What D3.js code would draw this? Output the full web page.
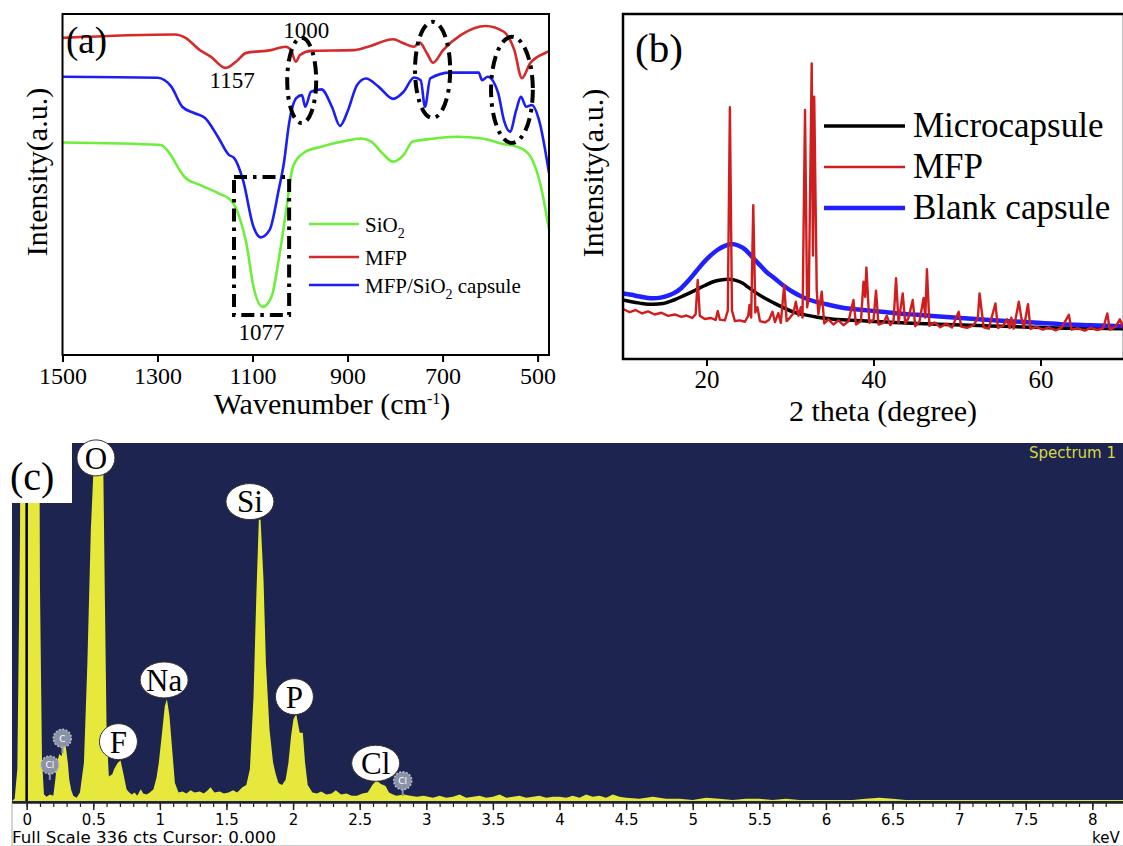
<!DOCTYPE html>
<html><head><meta charset="utf-8">
<script src="https://cdn.jsdelivr.net/npm/d3@7"></script>
<style>body{margin:0;background:#fff;} svg{display:block;}</style>
</head><body><svg id="fig" width="1123" height="846"></svg>
<script>
// ---------- Panel (a): FTIR ----------
const ftirTicks = [1500, 1300, 1100, 900, 700, 500];
const ftirSeriesNames = ["SiO2", "MFP", "MFP/SiO2 capsule"];
const ftirMFP = [[1500,93.0],[1263,94.0],[1241,93.0],[1211,89.4],[1188,87.5],[1157,84.2],[1135,86.0],[1113,88.6],[1061,89.4],[1030,90.4],[1019,89.4],[1009,86.0],[1000,88.0],[977,89.2],[887,89.4],[857,90.4],[804,92.6],[782,91.4],[760,90.4],[748,91.6],[733,88.5],[720,85.7],[699,89.4],[662,93.8],[609,96.5],[571,94.8],[549,89.4],[533,81.2],[516,85.5],[482,88.7],[476,89.1]];
const ftirCapsule = [[1500,81.6],[1300,81.3],[1271,78.7],[1248,72.8],[1222,70.9],[1200,69.5],[1173,64.0],[1150,58.7],[1139,57.8],[1120,51.3],[1098,37.6],[1083,34.5],[1064,36.7],[1045,48.4],[1034,56.3],[1023,68.0],[1008,75.3],[996,76.2],[989,72.8],[977,77.2],[955,77.9],[933,72.8],[916,67.2],[899,71.8],[880,79.2],[861,81.1],[835,78.7],[804,75.1],[782,77.2],[760,81.4],[746,80.6],[737,72.8],[726,81.1],[684,82.8],[624,82.8],[617,80.6],[605,81.6],[583,76.8],[571,68.9],[558,65.5],[545,71.8],[535,75.7],[524,72.8],[512,73.3],[497,68.9],[476,53.4]];
const ftirSiO2 = [[1500,62.3],[1293,61.6],[1275,59.2],[1256,54.8],[1241,51.9],[1211,49.9],[1173,47.5],[1143,45.0],[1128,40.6],[1113,32.8],[1098,20.0],[1079,14.1],[1060,17.1],[1045,27.9],[1030,41.6],[1015,55.2],[992,59.3],[955,61.1],[910,62.6],[872,63.5],[850,62.6],[827,59.2],[804,56.7],[782,58.7],[763,62.6],[729,63.3],[670,64.0],[617,63.5],[579,62.1],[534,60.6],[511,57.2],[493,49.4],[476,36.7]];
const ftirPeakLabels = [["1157",1143,78.3],["1000",987,93],["1077",1081,4.4]];
const ftirEllipses = [[1027,966,93,68],[758,684,97.7,69.5],[598,510,93.3,62.2]];
const ftirRect = [1139,1023,52.2,11.7];

// ---------- Panel (b): XRD ----------
const xrdTicks = [20, 40, 60];
const xrdNames = ["Microcapsule", "MFP", "Blank capsule"];
const xrdMicro = [[10,17.1],[11,16.6],[12,16.2],[13,15.9],[13.6,15.9],[14.8,16.1],[16.1,17.1],[17.4,18.5],[18.7,20],[19.8,21.3],[20.8,22.4],[21.7,22.9],[22.6,23.1],[23.5,22.8],[24.3,22],[25.1,20.6],[26,19.1],[27,17.6],[28.1,16.2],[29.2,14.9],[30.3,13.7],[31.8,12.8],[33.3,12.1],[35,11.6],[36.7,11.3],[41,10.8],[45.3,10.3],[49.6,9.9],[53.9,9.6],[58,9.3],[62,9.0],[66,8.9],[70,8.8]];
const xrdBlank = [[10,19],[11,18.6],[12,18.1],[13,17.7],[13.6,17.6],[14.5,17.8],[15.3,18.3],[16.1,19.1],[17,20.6],[17.9,22.9],[18.7,25.2],[19.6,27.8],[20.4,29.8],[21.3,31.6],[22.2,32.8],[23,33.3],[23.8,32.9],[24.7,31.6],[25.5,29.5],[26.4,27.2],[27.2,25.2],[28.1,23.5],[29.2,21.3],[30.3,19.5],[31.3,18.2],[32.4,17.1],[34.5,15.8],[36.7,14.7],[38.8,14.2],[41,13.7],[43.1,13.2],[45.3,12.8],[49.6,12],[53.9,11.3],[58.2,10.7],[62.4,10.1],[66,9.8],[70,9.5]];
const xrdMFP = [[10,14.5],[10.8,13.6],[11.5,14.2],[12.3,13.2],[13,13.8],[13.8,12.9],[14.6,13.4],[15.4,12.5],[16.2,12.9],[17,12.2],[17.6,12.6],[18.3,11.9],[18.7,13],[18.95,22.9],[19.2,12.5],[19.8,11.6],[20.5,11.9],[21.1,11.3],[21.35,13.9],[21.6,11.4],[22.2,11.2],[22.55,14],[22.8,73],[23.05,14],[23.4,11],[24,11.2],[24.6,10.8],[25,12.5],[25.15,15.7],[25.35,12],[25.6,44.6],[25.85,13.5],[26.1,15],[26.4,11],[27,10.6],[27.5,11.4],[27.9,13.7],[28.2,10.7],[28.6,13.3],[28.9,10.5],[29.3,21.4],[29.6,11],[30,12],[30.4,13.2],[30.7,16.6],[31,12.5],[31.3,15],[31.5,12],[31.8,72.2],[32.05,15],[32.25,18],[32.6,85.7],[32.75,30],[32.9,76],[33.2,20],[33.4,13],[33.8,19.5],[34.1,10.3],[34.6,11.5],[35.2,10],[35.8,11.2],[36.4,9.8],[37,10.9],[37.6,17.1],[37.9,10],[38.5,11],[38.8,22.4],[39.0,18],[39.15,26.5],[39.5,10.5],[40,11.3],[40.3,19.8],[40.6,10],[41.2,10.5],[41.6,12.5],[42,9.8],[42.4,11],[42.7,23.4],[43,10.5],[43.5,19],[43.8,10.2],[44.2,12],[44.7,17.1],[45,9.5],[45.5,10.8],[46,17.7],[46.2,12],[46.4,26],[46.7,9.6],[47.3,10.6],[48,9.2],[48.7,10.2],[49.4,9.1],[50.2,13.7],[50.5,9.4],[51.2,9],[52,9.8],[52.5,12],[52.7,19],[52.9,15],[53.2,9.2],[53.8,8.8],[54.6,16.1],[54.9,9],[55.5,9.6],[56,11.5],[56.3,9],[56.5,12],[56.8,8.8],[57.4,16.6],[57.7,12],[58,9],[58.5,15.9],[58.8,8.7],[59.5,9.3],[60.3,8.5],[61,9.2],[61.8,8.3],[62.5,9],[63.4,12.8],[63.7,8.5],[64.5,8.9],[65.3,8.2],[66,9],[66.8,8.4],[67.5,8.9],[68,13.2],[68.3,8.5],[69,9.4],[69.5,11.5],[70,8.6]];

// ---------- Panel (c): EDS ----------
const edsMajorTicks = [0,0.5,1,1.5,2,2.5,3,3.5,4,4.5,5,5.5,6,6.5,7,7.5,8];
const edsSpectrum = [[-0.11,0],[-0.09,2],[-0.07,30],[-0.05,250],[-0.035,700],[0.085,700],[0.1,200],[0.115,40],[0.13,6],[0.15,4],[0.175,6],[0.2,5],[0.215,20],[0.228,36],[0.245,44],[0.262,42],[0.276,55],[0.295,50],[0.31,35],[0.32,20],[0.335,10],[0.35,5],[0.375,3],[0.40,8],[0.43,36],[0.456,130],[0.482,255],[0.50,306],[0.53,330],[0.56,330],[0.576,306],[0.587,192],[0.60,67],[0.617,23],[0.643,25],[0.657,30],[0.684,36],[0.705,38],[0.724,27],[0.75,11],[0.77,8],[0.79,6],[0.81,8],[0.83,5],[0.857,11],[0.875,7],[0.9,6],[0.925,8],[0.952,11],[0.975,22],[0.992,36],[1.019,67],[1.037,89],[1.053,95.5],[1.072,80],[1.09,52],[1.113,17],[1.14,8],[1.17,9],[1.2,7],[1.23,10],[1.26,8],[1.3,9],[1.33,7],[1.36,10],[1.38,13],[1.41,8],[1.45,9],[1.48,7],[1.515,8],[1.55,10],[1.58,8],[1.62,13],[1.649,15],[1.676,30],[1.703,98],[1.724,192],[1.743,264],[1.756,264],[1.778,208],[1.796,130],[1.823,67],[1.85,36],[1.87,25],[1.89,17],[1.917,15],[1.944,20],[1.965,36],[1.985,61],[2.003,77],[2.024,81.5],[2.05,64],[2.073,64],[2.09,36],[2.11,15],[2.145,8],[2.18,7],[2.21,9],[2.25,6],[2.29,7],[2.32,10],[2.36,6],[2.4,7],[2.44,5],[2.48,5],[2.52,7],[2.56,8],[2.6,16],[2.627,19],[2.66,16],[2.694,14],[2.72,8],[2.75,6],[2.775,5],[2.83,6],[2.88,5],[2.93,4],[2.98,5],[3.05,3],[3.1,5],[3.15,3],[3.2,4],[3.25,6],[3.3,3],[3.35,4],[3.4,5],[3.45,3],[3.5,4],[3.55,6],[3.6,3],[3.65,4],[3.7,5],[3.75,3],[3.8,4],[3.85,5],[3.9,3],[3.95,4],[4.0,4],[4.05,3],[4.1,5],[4.15,3],[4.2,6],[4.25,4],[4.3,5],[4.35,3],[4.4,6],[4.45,4],[4.5,3],[4.6,2],[4.7,4],[4.75,3],[4.8,2],[4.9,2],[5.0,1],[5.1,3],[5.2,2],[5.3,1],[5.4,2],[5.5,2],[5.6,1],[5.7,2],[5.8,1],[5.9,1],[6.0,1],[6.1,1],[6.2,1],[6.3,2],[6.4,3],[6.5,2],[6.6,1],[6.7,1],[6.8,1],[7.0,1],[7.2,1],[7.4,1],[7.6,1],[7.8,1],[8.0,1],[8.23,1]];
const edsLabels = [["O",0.52,322],["Si",1.676,281],["Na",1.032,113.6],["P",2.01,97.9],["F",0.689,55.7],["Cl",2.62,35.4]];
const edsBadges = [["C",0.268,58.8],["Cl",0.174,33.8],["Cl",2.823,19]];

// ================= drawing =================
const svg = d3.select("#fig");
const SERIF = "'Liberation Serif','Times New Roman',serif";
const SANS = "'DejaVu Sans',Verdana,sans-serif";
svg.append("rect").attr("width",1123).attr("height",846).attr("fill","#fff");

// ---- Panel (a)
{
  const L=62.5,R=549,T=14,B=355;
  const x = d3.scaleLinear().domain([1500,476]).range([L,R]);
  const y = d3.scaleLinear().domain([0,100]).range([B,T]);
  const g = svg.append("g");
  g.append("clipPath").attr("id","clipA").append("rect").attr("x",L).attr("y",T).attr("width",R-L).attr("height",B-T);
  const line = d3.line().x(d=>x(d[0])).y(d=>y(d[1])).curve(d3.curveMonotoneX);
  const cg = g.append("g").attr("clip-path","url(#clipA)");
  const series = [[ftirSiO2,"#6cef3a"],[ftirCapsule,"#1d1df5"],[ftirMFP,"#d42a2a"]];
  series.forEach(([d,c])=>cg.append("path").datum(d).attr("d",line).attr("fill","none").attr("stroke",c).attr("stroke-width",2.6));
  const dash = "13,6,3.5,6";
  ftirEllipses.forEach(e=>{
    const cx=(x(e[0])+x(e[1]))/2, cy=(y(e[2])+y(e[3]))/2;
    g.append("ellipse").attr("cx",cx).attr("cy",cy).attr("rx",Math.abs(x(e[1])-x(e[0]))/2).attr("ry",Math.abs(y(e[3])-y(e[2]))/2)
      .attr("fill","none").attr("stroke","#000").attr("stroke-width",4).attr("stroke-dasharray",dash);
  });
  g.append("rect").attr("x",x(ftirRect[0])).attr("y",y(ftirRect[2])).attr("width",x(ftirRect[1])-x(ftirRect[0])).attr("height",y(ftirRect[3])-y(ftirRect[2]))
    .attr("fill","none").attr("stroke","#000").attr("stroke-width",4).attr("stroke-dasharray",dash);
  ftirPeakLabels.forEach(p=>g.append("text").attr("x",x(p[1])).attr("y",y(p[2])).attr("text-anchor","middle")
    .attr("font-family",SERIF).attr("font-size",23).text(p[0]));
  g.append("rect").attr("x",L).attr("y",T).attr("width",R-L).attr("height",B-T).attr("fill","none").attr("stroke","#000").attr("stroke-width",2);
  const ax = g.append("g").attr("transform",`translate(0,${B})`)
    .call(d3.axisBottom(x).tickValues(ftirTicks).tickSize(7).tickPadding(5).tickFormat(d3.format("d")));
  ax.select(".domain").remove();
  ax.selectAll("line").attr("stroke-width",2);
  ax.selectAll("text").attr("font-family",SERIF).attr("font-size",24).attr("fill","#000");
  const t = g.append("text").attr("x",332).attr("y",414).attr("text-anchor","middle").attr("font-family",SERIF).attr("font-size",30);
  t.append("tspan").text("Wavenumber (cm");
  t.append("tspan").attr("dy",-10).attr("font-size",16).text("-1");
  t.append("tspan").attr("dy",10).text(")");
  g.append("text").attr("transform","translate(47,172) rotate(-90)").attr("text-anchor","middle").attr("font-family",SERIF).attr("font-size",30).text("Intensity(a.u.)");
  g.append("text").attr("x",66).attr("y",53).attr("font-family",SERIF).attr("font-size",37).text("(a)");
  const legC = ["#6cef3a","#d42a2a","#1d1df5"], legY=[224,257,285];
  legY.forEach((ly,i)=>{
    g.append("line").attr("x1",309).attr("x2",359).attr("y1",ly).attr("y2",ly).attr("stroke",legC[i]).attr("stroke-width",2.6);
    const tx = g.append("text").attr("x",365).attr("y",ly+8).attr("font-family",SERIF).attr("font-size",21);
    const name = ftirSeriesNames[i];
    const parts = name.split("2");
    if(parts.length>1){
      tx.append("tspan").text(parts[0]);
      tx.append("tspan").attr("dy",6).attr("font-size",14).text("2");
      tx.append("tspan").attr("dy",-6).text(parts[1].length? "\u00a0"+parts[1].trim():"");
    } else tx.text(name);
  });
}

// ---- Panel (b)
{
  const L=623,R=1124,T=14,B=359;
  const x = d3.scaleLinear().domain([10,70]).range([L,R]);
  const y = d3.scaleLinear().domain([0,100]).range([B,T]);
  const g = svg.append("g");
  g.append("clipPath").attr("id","clipB").append("rect").attr("x",L).attr("y",T).attr("width",R-L).attr("height",B-T);
  const line = d3.line().x(d=>x(d[0])).y(d=>y(d[1]));
  const cg = g.append("g").attr("clip-path","url(#clipB)");
  cg.append("path").datum(xrdMicro).attr("d",line.curve(d3.curveMonotoneX)).attr("fill","none").attr("stroke","#000").attr("stroke-width",3.5);
  cg.append("path").datum(xrdBlank).attr("d",line.curve(d3.curveMonotoneX)).attr("fill","none").attr("stroke","#2020ff").attr("stroke-width",4.5);
  cg.append("path").datum(xrdMFP).attr("d",line.curve(d3.curveLinear)).attr("fill","none").attr("stroke","#d01e1e").attr("stroke-width",2.4).attr("stroke-linejoin","round");
  g.append("rect").attr("x",L).attr("y",T).attr("width",R-L).attr("height",B-T).attr("fill","none").attr("stroke","#000").attr("stroke-width",2.5);
  const ax = g.append("g").attr("transform",`translate(0,${B})`)
    .call(d3.axisBottom(x).tickValues(xrdTicks).tickSize(7).tickPadding(4).tickFormat(d3.format("d")));
  ax.select(".domain").remove();
  ax.selectAll("line").attr("stroke-width",2);
  ax.selectAll("text").attr("font-family",SERIF).attr("font-size",25).attr("fill","#000");
  g.append("text").attr("x",883).attr("y",421).attr("text-anchor","middle").attr("font-family",SERIF).attr("font-size",30).text("2 theta (degree)");
  g.append("text").attr("transform","translate(603,173) rotate(-90)").attr("text-anchor","middle").attr("font-family",SERIF).attr("font-size",30).text("Intensity(a.u.)");
  g.append("text").attr("x",635).attr("y",62).attr("font-family",SERIF).attr("font-size",41).text("(b)");
  const legC=["#000","#d01e1e","#2020ff"], legW=[3.5,2.4,4.5], legY=[126,167,208];
  legY.forEach((ly,i)=>{
    g.append("line").attr("x1",824).attr("x2",905).attr("y1",ly).attr("y2",ly).attr("stroke",legC[i]).attr("stroke-width",legW[i]);
    g.append("text").attr("x",913).attr("y",ly+11).attr("font-family",SERIF).attr("font-size",35).text(xrdNames[i]);
  });
}

// ---- Panel (c)
{
  const L=12,R=1123,T=443,B=801;
  const x = d3.scaleLinear().domain([-0.11,8.23]).range([L,R]);
  const y = d3.scaleLinear().domain([0,336]).range([B,T]);
  const g = svg.append("g");
  g.append("rect").attr("x",L).attr("y",T).attr("width",R-L).attr("height",803-T).attr("fill","#1e2450");
  g.append("clipPath").attr("id","clipC").append("rect").attr("x",L).attr("y",T).attr("width",R-L).attr("height",B-T+1);
  const area = d3.area().x(d=>x(d[0])).y0(y(0)).y1(d=>y(d[1]));
  g.append("g").attr("clip-path","url(#clipC)").append("path").datum(edsSpectrum).attr("d",area).attr("fill","#e6e83c");
  g.append("line").attr("x1",x(0)).attr("x2",x(0)).attr("y1",T).attr("y2",B).attr("stroke","#000").attr("stroke-width",2.5);
  g.append("rect").attr("x",0).attr("y",430).attr("width",72).attr("height",73).attr("fill","#fff");
  g.append("text").attr("x",10).attr("y",490).attr("font-family",SERIF).attr("font-size",40).text("(c)");
  const ax = g.append("g").attr("transform","translate(0,803)")
    .call(d3.axisBottom(x).tickValues(edsMajorTicks).tickSize(7).tickSizeOuter(0).tickPadding(4).tickFormat(d=>String(d)));
  ax.select(".domain").attr("d",`M${L},0H${R}`).attr("stroke","#222").attr("stroke-width",1.5);
  ax.selectAll("line").attr("stroke","#222").attr("stroke-width",1.5);
  ax.selectAll("text").attr("font-family",SANS).attr("font-size",15).attr("fill","#000");
  const minor = g.append("g").attr("transform","translate(0,803)")
    .call(d3.axisBottom(x).tickValues(d3.range(0,82).map(i=>i/10)).tickSize(4).tickFormat(""));
  minor.select(".domain").remove();
  minor.selectAll("line").attr("stroke","#222").attr("stroke-width",1.2);
  g.append("text").attr("x",12).attr("y",843).attr("font-family",SANS).attr("font-size",15)
    .attr("textLength",264).attr("lengthAdjust","spacingAndGlyphs").text("Full Scale 336 cts Cursor: 0.000");
  g.append("text").attr("x",1092).attr("y",843).attr("font-family",SANS).attr("font-size",15).text("keV");
  g.append("text").attr("x",1116).attr("y",458).attr("text-anchor","end").attr("font-family",SANS).attr("font-size",15).attr("fill","#d6d846").text("Spectrum 1");
  g.append("line").attr("x1",12).attr("x2",12).attr("y1",803).attr("y2",846).attr("stroke","#aaa");
  g.append("line").attr("x1",12).attr("x2",1123).attr("y1",845.5).attr("y2",845.5).attr("stroke","#ccc");
  edsBadges.forEach(b=>{
    const cx=x(b[1]), cy=y(b[2]);
    g.append("line").attr("x1",cx).attr("x2",cx).attr("y1",cy).attr("y2",cy+15).attr("stroke","#8a92a8").attr("stroke-width",2);
    g.append("circle").attr("cx",cx).attr("cy",cy).attr("r",9).attr("fill","#8a92a8").attr("stroke","#b8bdcc").attr("stroke-width",1.5).attr("stroke-dasharray","2,1.5");
    g.append("text").attr("x",cx).attr("y",cy).attr("dy","0.35em").attr("text-anchor","middle").attr("font-family",SANS).attr("font-size",9).attr("fill","#fff").text(b[0]);
  });
  edsLabels.forEach(l=>{
    const cx=x(l[1]), cy=y(l[2]);
    const rx = l[0].length>1?24:19;
    g.append("ellipse").attr("cx",cx).attr("cy",cy).attr("rx",rx).attr("ry",18).attr("fill","#fff").attr("stroke","#333").attr("stroke-width",1);
    g.append("text").attr("x",cx).attr("y",cy).attr("dy","0.35em").attr("text-anchor","middle").attr("font-family",SERIF).attr("font-size",31).text(l[0]);
  });
}
</script></body></html>
